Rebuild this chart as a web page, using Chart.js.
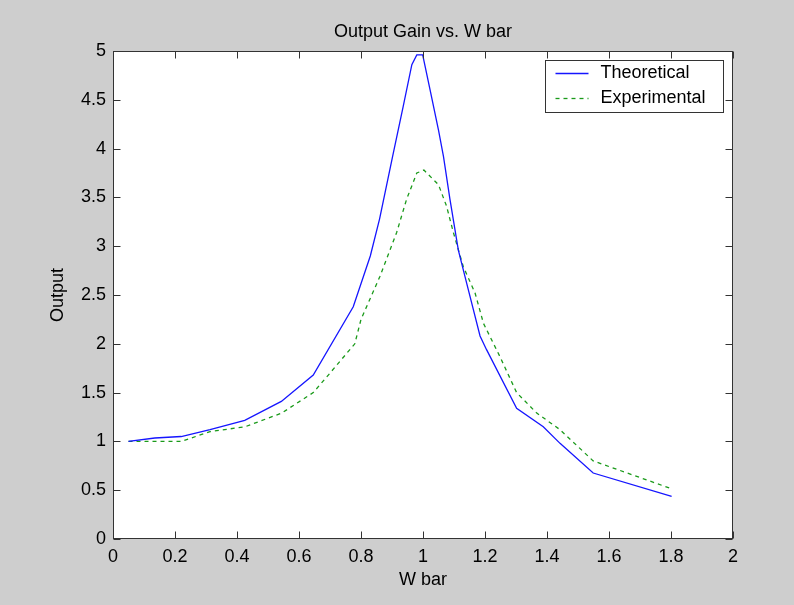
<!DOCTYPE html>
<html><head><meta charset="utf-8">
<script src="https://cdn.jsdelivr.net/npm/chart.js@4.4.0/dist/chart.umd.min.js"></script>
<style>html,body{margin:0;padding:0;background:#cecece;}#wrap{width:794px;height:605px;}</style>
</head><body><div id="wrap"><canvas id="c" width="794" height="605"></canvas></div>
<script>
const titleText = 'Output Gain vs. W bar';
const xTitle = 'W bar';
const yTitle = 'Output';
const seriesLabels = ['Theoretical', 'Experimental'];

const theoX = [0.05, 0.135, 0.22, 0.313, 0.425, 0.543, 0.646, 0.775, 0.83, 0.86, 0.902, 0.936, 0.964, 0.98, 0.999, 1.023, 1.05, 1.066, 1.087, 1.114, 1.141, 1.184, 1.205, 1.302, 1.388, 1.442, 1.549, 1.802];
const theoY = [1.0, 1.035, 1.05, 1.12, 1.215, 1.41, 1.68, 2.38, 2.9, 3.28, 3.92, 4.43, 4.86, 4.96, 4.96, 4.6, 4.19, 3.92, 3.48, 2.96, 2.62, 2.08, 1.94, 1.34, 1.15, 0.98, 0.676, 0.437];

const expX = [0.05, 0.22, 0.313, 0.426, 0.544, 0.646, 0.7, 0.78, 0.8, 0.861, 0.915, 0.947, 0.98, 1.003, 1.05, 1.076, 1.098, 1.13, 1.168, 1.195, 1.248, 1.302, 1.367, 1.442, 1.549, 1.797];
const expY = [1.0, 1.0, 1.10, 1.15, 1.29, 1.50, 1.70, 2.0, 2.25, 2.69, 3.14, 3.48, 3.75, 3.78, 3.63, 3.41, 3.14, 2.79, 2.52, 2.21, 1.87, 1.50, 1.29, 1.12, 0.80, 0.52];

const xTicks = [0, 0.2, 0.4, 0.6, 0.8, 1, 1.2, 1.4, 1.6, 1.8, 2];
const yTicks = [0, 0.5, 1, 1.5, 2, 2.5, 3, 3.5, 4, 4.5, 5];

const FONT = "'Liberation Sans', Arial, Helvetica, sans-serif";
Chart.defaults.font.family = FONT;
Chart.defaults.font.size = 18;
Chart.defaults.color = '#000';

const bgPlugin = {
  id: 'bg',
  beforeDraw(chart) {
    const {ctx, chartArea: a} = chart;
    ctx.save();
    ctx.fillStyle = '#cecece';
    ctx.fillRect(0, 0, chart.width, chart.height);
    ctx.fillStyle = '#ffffff';
    ctx.fillRect(a.left, a.top, a.right - a.left, a.bottom - a.top);
    ctx.restore();
  }
};

const boxPlugin = {
  id: 'box',
  afterDraw(chart) {
    const {ctx, chartArea: a, scales: {x, y}} = chart;
    ctx.save();
    ctx.strokeStyle = '#333';
    ctx.lineWidth = 1;
    const L = Math.round(a.left) + 0.5, R = Math.round(a.right) - 0.5;
    const T = Math.round(a.top) + 0.5, B = Math.round(a.bottom) - 0.5;
    ctx.beginPath();
    xTicks.forEach(v => {
      const px = Math.round(x.getPixelForValue(v)) + 0.5;
      ctx.moveTo(px, B); ctx.lineTo(px, B - 7);
      ctx.moveTo(px, T); ctx.lineTo(px, T + 7);
    });
    yTicks.forEach(v => {
      const py = Math.round(y.getPixelForValue(v)) + 0.5;
      ctx.moveTo(L, py); ctx.lineTo(L + 7, py);
      ctx.moveTo(R, py); ctx.lineTo(R - 7, py);
    });
    ctx.stroke();
    ctx.strokeRect(L, T, R - L, B - T);

    // legend box
    const bx = 545.5, by = 60.5, bw = 178, bh = 52;
    ctx.fillStyle = '#fff';
    ctx.fillRect(bx, by, bw, bh);
    ctx.strokeStyle = '#333';
    ctx.strokeRect(bx, by, bw, bh);
    chart.data.datasets.forEach((ds, i) => {
      const ry = by + 13 + i * 25;
      ctx.beginPath();
      ctx.strokeStyle = ds.borderColor;
      ctx.lineWidth = ds.borderWidth;
      ctx.setLineDash(ds.borderDash || []);
      ctx.moveTo(bx + 10, ry); ctx.lineTo(bx + 43, ry);
      ctx.stroke();
      ctx.setLineDash([]);
      ctx.fillStyle = '#000';
      ctx.font = '18px ' + FONT;
      ctx.textBaseline = 'middle';
      ctx.textAlign = 'left';
      ctx.fillText(ds.label, bx + 55, ry);
    });
    ctx.restore();
  }
};

new Chart(document.getElementById('c'), {
  type: 'line',
  data: {
    datasets: [
      {
        label: seriesLabels[0],
        data: theoX.map((v, i) => ({x: v, y: theoY[i]})),
        borderColor: '#1515ff',
        borderWidth: 1.3,
        pointRadius: 0,
        tension: 0,
        fill: false
      },
      {
        label: seriesLabels[1],
        data: expX.map((v, i) => ({x: v, y: expY[i]})),
        borderColor: '#1a9a1a',
        borderWidth: 1.3,
        borderDash: [4, 4],
        pointRadius: 0,
        tension: 0,
        fill: false
      }
    ]
  },
  options: {
    responsive: false,
    animation: false,
    layout: {padding: {left: 0, right: 61, top: 0, bottom: 0}},
    plugins: {
      legend: {display: false},
      tooltip: {enabled: false},
      title: {
        display: true,
        text: titleText,
        fullSize: false,
        font: {size: 18, weight: 'normal', lineHeight: 1.2},
        color: '#000',
        padding: {top: 21.4, bottom: 8}
      }
    },
    scales: {
      x: {
        type: 'linear',
        min: 0, max: 2,
        grid: {display: false, drawTicks: false},
        border: {display: false},
        afterBuildTicks(s) { s.ticks = xTicks.map(v => ({value: v})); },
        afterFit(s) { s.height = 66; },
        ticks: {autoSkip: false, maxRotation: 0, padding: 7, font: {size: 18}, color: '#000', callback: v => String(v)},
        title: {display: true, text: xTitle, font: {size: 18}, color: '#000', padding: {top: 0, bottom: 14}}
      },
      y: {
        type: 'linear',
        min: 0, max: 5,
        grid: {display: false, drawTicks: false},
        border: {display: false},
        afterBuildTicks(s) { s.ticks = yTicks.map(v => ({value: v})); },
        afterFit(s) { s.width = 113; },
        ticks: {autoSkip: false, padding: 7, font: {size: 18}, color: '#000', callback: v => String(v)},
        title: {display: true, text: yTitle, font: {size: 18}, color: '#000', padding: {top: 47, bottom: 0}}
      }
    }
  },
  plugins: [bgPlugin, boxPlugin]
});
</script>
</body></html>
